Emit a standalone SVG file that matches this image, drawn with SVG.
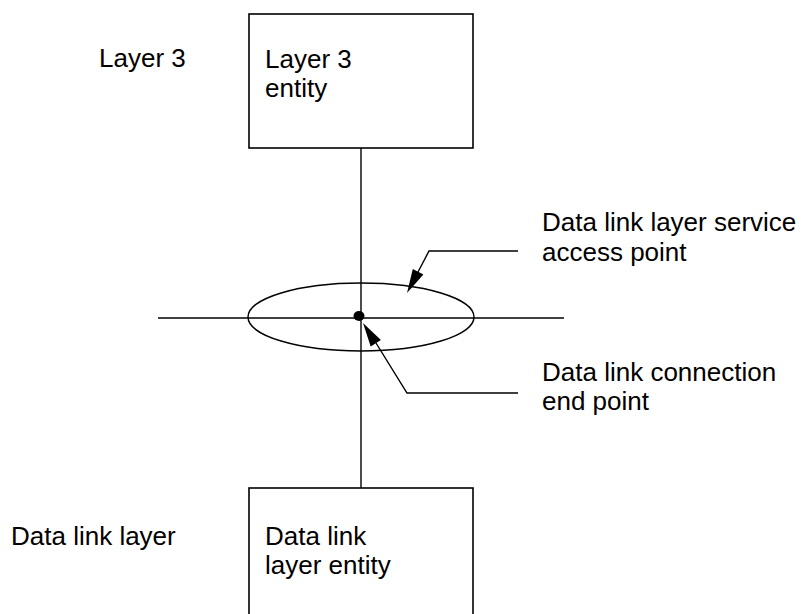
<svg xmlns="http://www.w3.org/2000/svg" width="808" height="614" viewBox="0 0 808 614">
<defs>
<style>
.t{font-family:"Liberation Sans",Arial,sans-serif;font-size:26px;fill:#000}
.ln{stroke:#000;stroke-width:1.4;fill:none}
.box{stroke:#000;stroke-width:1.6;fill:#fff}
.ah{fill:#000;stroke:none}
</style>
</defs>
<rect width="808" height="614" fill="#fff"/>
<g id="connectors">
<line class="ln" x1="361" y1="148" x2="361" y2="488"/>
<line class="ln" x1="158" y1="318" x2="564" y2="318"/>
<polyline class="ln" points="518,251 429,251 418,272"/>
<polygon class="ah" points="407,293 423.4,274.5 412.8,268.9"/>
<polyline class="ln" points="518,393 407,393 376,343"/>
<polygon class="ah" points="363,323 380.9,340.1 370.7,346.5"/>
</g>
<g id="layer3-entity">
<rect class="box" x="249" y="14" width="224" height="134"/>
<text class="t" x="265" y="68">Layer 3</text>
<text class="t" x="265" y="97">entity</text>
</g>
<g id="sap">
<ellipse class="ln" cx="361" cy="317" rx="113" ry="34"/>
</g>
<g id="cep">
<ellipse cx="359" cy="316" rx="5.5" ry="5" fill="#000"/>
</g>
<g id="dl-entity">
<rect class="box" x="249" y="488" width="224" height="140"/>
<text class="t" x="265" y="545">Data link</text>
<text class="t" x="265" y="574">layer entity</text>
</g>
<g id="labels">
<text class="t" x="99" y="67">Layer 3</text>
<text class="t" x="11" y="545">Data link layer</text>
<text class="t" x="542" y="231">Data link layer service</text>
<text class="t" x="542" y="261">access point</text>
<text class="t" x="542" y="381">Data link connection</text>
<text class="t" x="542" y="410">end point</text>
</g>
</svg>
